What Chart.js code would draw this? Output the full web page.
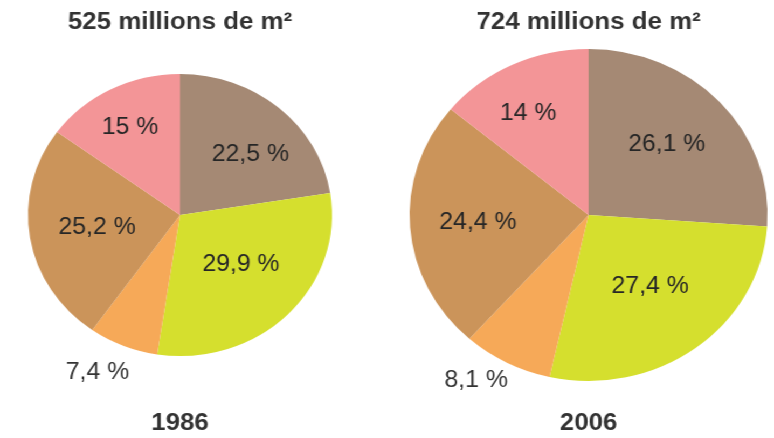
<!DOCTYPE html>
<html>
<head>
<meta charset="utf-8">
<script src="https://cdn.jsdelivr.net/npm/chart.js@4"></script>
<style>
  html, body { margin: 0; padding: 0; background: #fff; overflow: hidden; }
  #wrap { position: relative; width: 718px; height: 438px; transform: scaleX(1.078); transform-origin: 0 0; }
  .box { position: absolute; top: 0; height: 438px; }
  #b1 { left: 0px; width: 334px; }
  #b2 { left: 374.4px; width: 344px; }
</style>
</head>
<body>
<div id="wrap">
  <div class="box" id="b1"><canvas id="c1"></canvas></div>
  <div class="box" id="b2"><canvas id="c2"></canvas></div>
</div>
<script>
const categories = ['Secteur 1', 'Secteur 2', 'Secteur 3', 'Secteur 4', 'Secteur 5'];
const years = ['1986', '2006'];
const totals = ['525 millions de m²', '724 millions de m²'];
const shares1986 = [22.5, 29.9, 7.4, 25.2, 15];
const shares2006 = [26.1, 27.4, 8.1, 24.4, 14];
const sliceColors = ['#a58974', '#d5df2e', '#f6a958', '#cb945a', '#f39597'];

const fmt = v => String(v).replace('.', ',') + ' %';

const pieLabels = {
  id: 'pieLabels',
  afterDatasetsDraw(chart, args, opts) {
    const ctx = chart.ctx;
    const meta = chart.getDatasetMeta(0);
    const values = chart.data.datasets[0].data;
    ctx.save();
    ctx.font = opts.font;
    ctx.textAlign = 'center';
    ctx.textBaseline = 'middle';
    meta.data.forEach((arc, i) => {
      const p = arc.getProps(['x', 'y', 'startAngle', 'endAngle', 'outerRadius'], true);
      const a = (p.startAngle + p.endAngle) / 2 + (opts.angleShift[i] || 0) * Math.PI / 180;
      const d = p.outerRadius * opts.radius[i];
      ctx.fillStyle = opts.radius[i] > 1 ? opts.outerColor : opts.color;
      ctx.fillText(fmt(values[i]), p.x + Math.cos(a) * d, p.y + Math.sin(a) * d);
    });
    ctx.restore();
  }
};

function makePie(id, values, title, year, pad, labelRadius, labelShift) {
  return new Chart(document.getElementById(id), {
    type: 'pie',
    data: {
      labels: categories,
      datasets: [{ data: values, backgroundColor: sliceColors, borderWidth: 0 }]
    },
    options: {
      responsive: true,
      maintainAspectRatio: false,
      animation: false,
      layout: { padding: 0 },
      plugins: {
        legend: { display: false },
        tooltip: { enabled: false },
        title: {
          display: true, text: title, color: '#333',
          font: { family: 'Liberation Sans, Arial, sans-serif', size: 24, weight: 'bold', lineHeight: 1.2 },
          padding: { top: 7.6, bottom: pad.titleBottom }
        },
        subtitle: {
          display: true, text: year, position: 'bottom', color: '#333',
          font: { family: 'Liberation Sans, Arial, sans-serif', size: 24, weight: 'bold', lineHeight: 1.2 },
          padding: { top: pad.yearTop, bottom: 0 }
        },
        pieLabels: {
          font: '23px "Liberation Sans", Arial, sans-serif',
          color: '#262626',
          outerColor: '#333',
          radius: labelRadius,
          angleShift: labelShift
        }
      }
    },
    plugins: [pieLabels]
  });
}

makePie('c1', shares1986, totals[0], years[0], { titleBottom: 37.6, yearTop: 53.2 },
  [0.63, 0.535, 1.24, 0.553, 0.70], [6.8, -3.3, 4, 0, -1]);
makePie('c2', shares2006, totals[1], years[1], { titleBottom: 12.6, yearTop: 28.2 },
  [0.607, 0.55, 1.18, 0.62, 0.70], [-1, -2, 5, 0, -3.6]);
</script>
</body>
</html>
